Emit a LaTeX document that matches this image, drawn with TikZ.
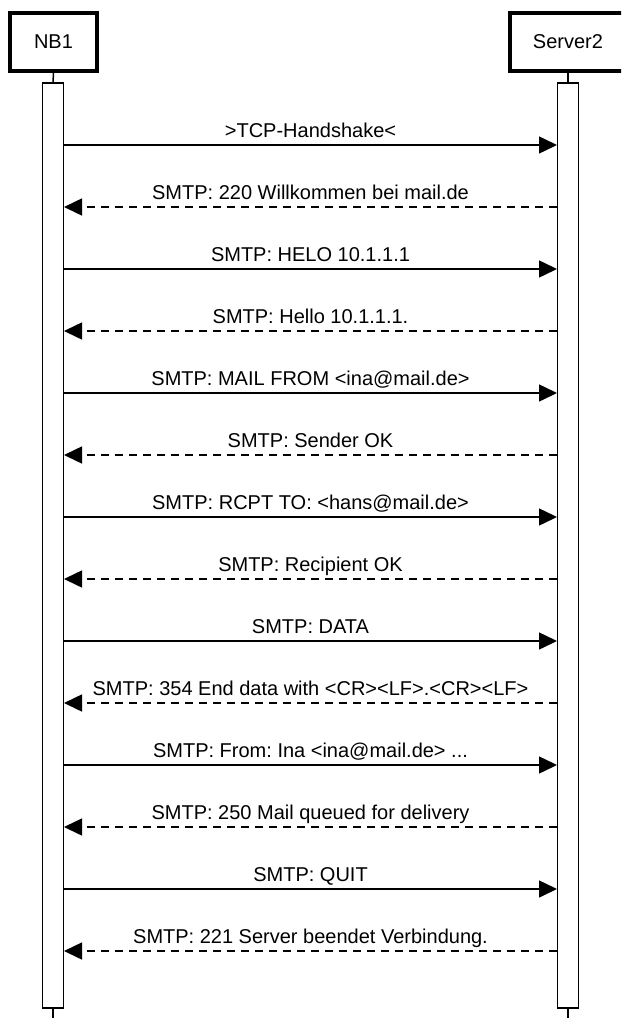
\documentclass[tikz,border=0pt]{standalone}
\usepackage{fontspec}
\setmainfont{Liberation Sans}
\usetikzlibrary{arrows.meta}

\tikzset{
  actor/.style={draw, line width=4pt, minimum width=87pt, minimum height=58pt, inner sep=0pt, font=\fontsize{20}{24}\selectfont},
  lifebar/.style={draw, line width=1.5pt, fill=white, minimum width=21pt, minimum height=925pt, inner sep=0pt},
  msg/.style={line width=1.5pt, -{Triangle[length=18pt, width=17pt]}},
  reply/.style={msg, dash pattern=on 8pt off 6pt},
  msglabel/.style={font=\fontsize{20}{24}\selectfont\frenchspacing, inner sep=0pt, anchor=base, yshift=8pt, midway}
}

\begin{document}
\begin{tikzpicture}[x=1pt, y=-1pt]

\path[use as bounding box, clip] (0, 0) rectangle (621, 1025);

% draw the two participants
\node[actor] (nb1) at (53.5, 42) {NB1};
\node[actor, minimum width=116pt] (srv) at (568, 42) {Server2};

% draw lifelines
\node[lifebar] (bar1) at (53, 545.5) {};
\node[lifebar] (bar2) at (568, 545.5) {};
\coordinate (end1) at (53, 1018);
\coordinate (end2) at (568, 1018);
\draw[line width=1.5pt] (nb1.south) -- (bar1.north);
\draw[line width=1.5pt] (srv.south) -- (bar2.north);
\draw[line width=1.5pt] (bar1.south) -- (end1);
\draw[line width=1.5pt] (bar2.south) -- (end2);

% draw messages, requests solid and replies dashed
\foreach \txt [count=\i] in {
    >TCP-Handshake<,
    SMTP: 220 Willkommen bei mail.de,
    SMTP: HELO 10.1.1.1,
    SMTP: Hello 10.1.1.1.,
    SMTP: MAIL FROM <ina@mail.de>,
    SMTP: Sender OK,
    SMTP: RCPT TO: <hans@mail.de>,
    SMTP: Recipient OK,
    SMTP: DATA,
    SMTP: 354 End data with <CR><LF>.<CR><LF>,
    {SMTP: From: Ina <ina@mail.de> {...}},
    SMTP: 250 Mail queued for delivery,
    SMTP: QUIT,
    SMTP: 221 Server beendet Verbindung.}
{
  \coordinate (l\i) at (64, 83 + 62*\i);
  \coordinate (r\i) at (557, 83 + 62*\i);
  \ifodd\i
    \draw[msg] (l\i) -- node[msglabel] {\txt} (r\i);
  \else
    \draw[reply] (r\i) -- node[msglabel] {\txt} (l\i);
  \fi
}

\end{tikzpicture}
\end{document}
